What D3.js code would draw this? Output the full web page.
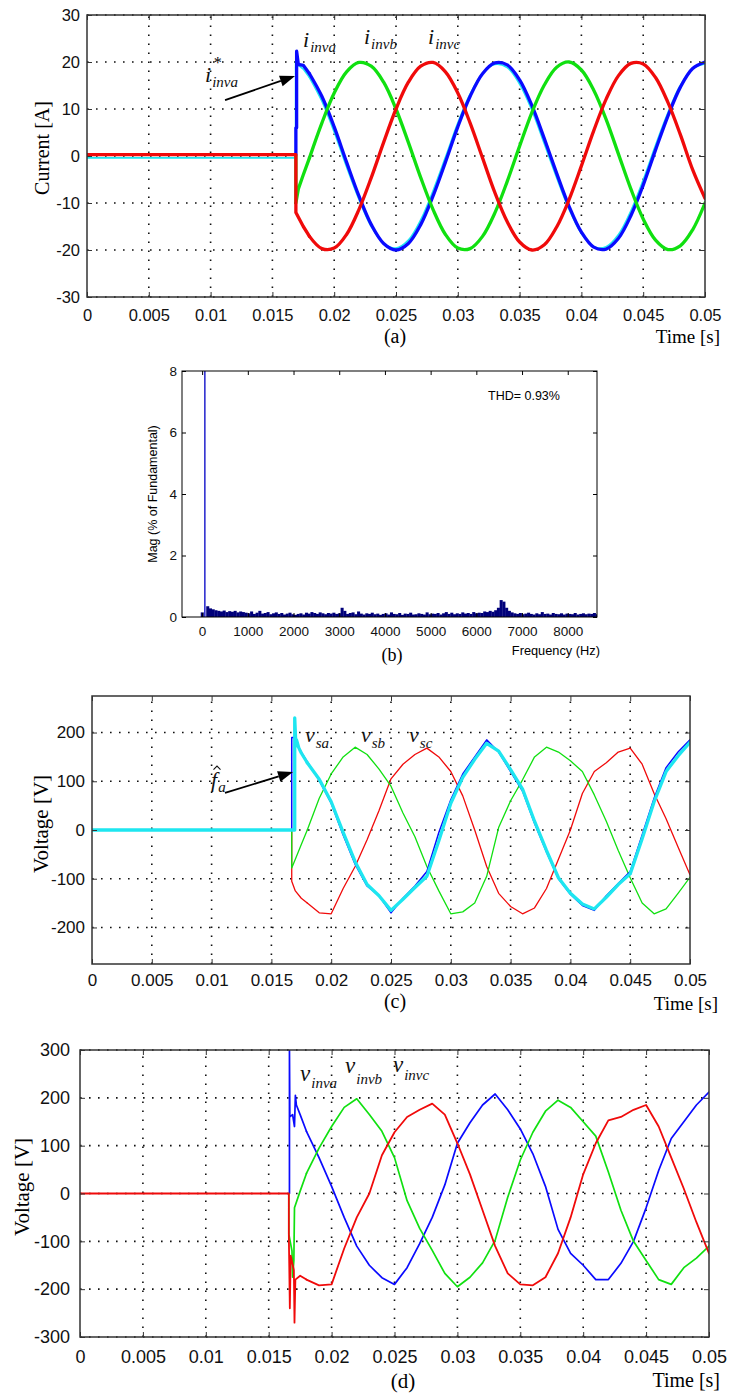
<!DOCTYPE html>
<html>
<head>
<meta charset="utf-8">
<script src="https://cdn.jsdelivr.net/npm/d3@7"></script>
<style>
  body { margin: 0; background: #fff; }
  svg { display: block; }
</style>
</head>
<body>
<div id="chart"></div>
<script>
// ---- data ------------------------------------------------------------

// shared sample instants after the inverter is switched in (s)
const tSteady = [0.018, 0.019, 0.020, 0.021, 0.022, 0.023, 0.024, 0.025, 0.026, 0.027, 0.028,
  0.029, 0.030, 0.031, 0.032, 0.033, 0.034, 0.035, 0.036, 0.037, 0.038, 0.039, 0.040, 0.041,
  0.042, 0.043, 0.044, 0.045, 0.046, 0.047, 0.048, 0.049, 0.050];
const timeTicks = [0, 0.005, 0.01, 0.015, 0.02, 0.025, 0.03, 0.035, 0.04, 0.045, 0.05];

// (a) inverter currents [A]
const currentTicks = [-30, -20, -10, 0, 10, 20, 30];
const iRefStart = [[0, -0.4], [0.01688, -0.4], [0.01688, 20.1], [0.0170, 19.5], [0.0175, 18.5]];
const iRef = [16.7, 11.7, 5.1, -2.3, -9.2, -15.0, -18.6, -19.6, -17.9, -13.6, -7.4, -0.3, 7.0, 13.2,
  17.6, 19.5, 18.8, 15.3, 9.7, 2.6, -4.6, -11.3, -16.5, -19.3, -19.3, -16.7, -11.7, -5.1, 2.3, 9.2,
  15.0, 18.6, 19.6];
const iaStart = [[0.0169, 0.2], [0.0169, 6], [0.01696, 6], [0.01696, 22.3], [0.0171, 19.5], [0.0175, 19.3]];
const ia = [17.5, 12.7, 6.2, -1.3, -8.5, -14.6, -18.6, -20, -18.6, -14.6, -8.5, -1.3, 6.2, 12.7,
  17.5, 19.8, 19.4, 16.2, 10.7, 3.7, -3.7, -10.7, -16.2, -19.4, -19.8, -17.5, -12.7, -6.2, 1.3, 8.5,
  14.6, 18.6, 20];
const ibStart = [[0.0169, 0], [0.0169, -10], [0.0171, -7], [0.0175, -4]];
const ib = [-0.4, 7.0, 13.4, 17.9, 19.9, 19.1, 15.7, 10, 2.9, -4.6, -11.4, -16.7, -19.6, -19.7,
  -17.1, -12.1, -5.4, 2.1, 9.3, 15.1, 18.9, 20.0, 18.3, 14.0, 7.8, 0.4, -7.0, -13.4, -17.9, -19.9,
  -19.1, -15.7, -10];
const icStart = [[0, 0.3], [0.0169, 0.3], [0.0169, -12], [0.0175, -15]];
const ic = [-17.1, -19.7, -19.6, -16.7, -11.4, -4.6, 2.9, 10, 15.7, 19.1, 19.9, 17.9, 13.4, 7.0,
  -0.4, -7.8, -14.0, -18.3, -20.0, -18.9, -15.1, -9.3, -2.1, 5.4, 12.1, 17.1, 19.7, 19.6, 16.7,
  11.4, 4.6, -2.9, -9];

// (b) current spectrum, one value per harmonic order 0..144 of 60 Hz [% of fundamental]
const harmonicHz = 60;
const spectrum = [
  0.15, 100, 0.35, 0.28, 0.25, 0.22, 0.2, 0.18, 0.21, 0.16,
  0.19, 0.17, 0.2, 0.15, 0.18, 0.16, 0.14, 0.12, 0.18, 0.1,
  0.14, 0.2, 0.11, 0.13, 0.16, 0.09, 0.12, 0.15, 0.1, 0.13,
  0.08, 0.11, 0.14, 0.09, 0.07, 0.1, 0.12, 0.08, 0.14, 0.11,
  0.16, 0.13, 0.1, 0.15, 0.12, 0.09, 0.13, 0.11, 0.14, 0.1,
  0.12, 0.3, 0.2, 0.1, 0.13, 0.15, 0.09, 0.18, 0.11, 0.08,
  0.12, 0.1, 0.14, 0.09, 0.11, 0.07, 0.1, 0.12, 0.08, 0.15,
  0.1, 0.09, 0.13, 0.07, 0.11, 0.1, 0.14, 0.08, 0.09, 0.12,
  0.1, 0.08, 0.15, 0.09, 0.11, 0.1, 0.13, 0.08, 0.12, 0.16,
  0.1, 0.14, 0.09, 0.12, 0.1, 0.15, 0.11, 0.13, 0.1, 0.16,
  0.12, 0.14, 0.13, 0.18, 0.16, 0.2, 0.17, 0.22, 0.3, 0.55,
  0.5, 0.3, 0.2, 0.15, 0.12, 0.1, 0.13, 0.09, 0.11, 0.14,
  0.1, 0.08, 0.12, 0.09, 0.16, 0.1, 0.11, 0.08, 0.13, 0.1,
  0.09, 0.12, 0.08, 0.11, 0.1, 0.09, 0.13, 0.08, 0.1, 0.12,
  0.09, 0.11, 0.1, 0.13, 0.09];
const freqTicks = [0, 1000, 2000, 3000, 4000, 5000, 6000, 7000, 8000];
const magTicks = [0, 2, 4, 6, 8];

// (c) source voltages and estimated signal [V]
const srcTicks = [-200, -100, 0, 100, 200];
const fHatStart = [[0, 0], [0.01695, 0], [0.01695, 230], [0.01705, 172], [0.0171, 185], [0.0173, 168], [0.0175, 158]];
const fHat = [138, 104, 58, -5, -65, -112, -135, -165, -142, -118, -95, -22, 55, 108, 145, 178,
  162, 124, 84, 18, -42, -98, -130, -152, -162, -138, -112, -90, -18, 58, 120, 152, 180];
const vsaStart = [[0, 0], [0.0167, 0], [0.0167, 190], [0.0169, 190], [0.017, 180], [0.0175, 160]];
const vsa = [140, 102, 55, -10, -70, -115, -135, -170, -140, -115, -85, -5, 62, 115, 150, 185,
  160, 120, 80, 14, -45, -100, -132, -155, -165, -135, -110, -85, -10, 65, 128, 160, 185];
const vsbStart = [[0, 0], [0.0167, 0], [0.0167, -78], [0.017, -60], [0.0175, -30]];
const vsb = [0, 65, 115, 150, 170, 155, 125, 90, 35, -14, -75, -125, -172, -168, -150, -95, 5,
  60, 103, 150, 170, 160, 142, 120, 72, 18, -42, -98, -150, -172, -162, -130, -97];
const vscStart = [[0, 0], [0.0167, 0], [0.0167, -105], [0.017, -125], [0.0175, -140]];
const vsc = [-150, -170, -172, -120, -75, -20, 40, 105, 135, 155, 168, 150, 120, 70, 0, -75, -130,
  -157, -172, -160, -120, -60, 0, 75, 120, 138, 160, 168, 135, 75, 23, -35, -92];

// (d) inverter voltages [V]
const invTicks = [-300, -200, -100, 0, 100, 200, 300];
const vinvaStart = [[0.01665, 0], [0.01665, 300], [0.01668, 160], [0.0169, 165], [0.01705, 140],
  [0.01712, 205], [0.0172, 185], [0.0175, 165]];
const vinva = [130, 75, 15, -50, -110, -150, -176, -190, -155, -105, -50, 18, 105, 148, 185, 208,
  175, 135, 83, 15, -75, -125, -150, -180, -180, -146, -100, -30, 48, 115, 150, 185, 212];
const vinvbStart = [[0.0166, 0], [0.0166, -85], [0.01685, -120], [0.0169, -175], [0.0170, -140],
  [0.01705, -30], [0.0175, 5]];
const vinvb = [42, 95, 140, 180, 198, 165, 130, 75, -15, -73, -119, -167, -195, -175, -145, -98,
  -8, 70, 128, 172, 195, 180, 150, 120, 45, -35, -100, -140, -180, -190, -155, -135, -110];
const vinvcStart = [[0, 0], [0.0166, 0], [0.0166, -85], [0.01668, -240], [0.01675, -130], [0.0170, -160],
  [0.01705, -270], [0.01712, -180], [0.0175, -172]];
const vinvc = [-180, -192, -190, -115, -50, 0, 80, 128, 160, 175, 188, 165, 105, 40, -35, -110,
  -167, -190, -192, -175, -125, -50, 40, 105, 153, 160, 175, 185, 140, 75, 10, -60, -125];

// ---- drawing ---------------------------------------------------------

const SANS = '"Liberation Sans", Arial, Helvetica, sans-serif';
const SERIF = '"Liberation Serif", "Times New Roman", Times, serif';
const BLUE = '#0a0aff', GREEN = '#10e010', RED = '#f00a0a', CYAN = '#1ee6f0';

const svg = d3.select('#chart').append('svg')
  .attr('width', 730).attr('height', 1397)
  .style('background', '#fff');

const fmtTime = d => String(+d.toFixed(3));
let clipId = 0;

/**
 * Box, inward ticks on all four sides and tick labels
 */
function drawFrame(g, x, y, o) {
  const [x0, x1] = x.range();
  const [yb, yt] = y.range();

  const bottom = g.append('g').attr('transform', `translate(0,${yb})`)
    .call(d3.axisBottom(x).tickValues(o.xTicks).tickSizeInner(-o.tick).tickSizeOuter(0)
      .tickPadding(o.xPad).tickFormat(o.xFormat));
  const top = g.append('g').attr('transform', `translate(0,${yt})`)
    .call(d3.axisTop(x).tickValues(o.xTicks).tickSizeInner(-o.tick).tickSizeOuter(0).tickFormat(''));
  const left = g.append('g').attr('transform', `translate(${x0},0)`)
    .call(d3.axisLeft(y).tickValues(o.yTicks).tickSizeInner(-o.tick).tickSizeOuter(0)
      .tickPadding(o.yPad).tickFormat(d => String(d)));
  const right = g.append('g').attr('transform', `translate(${x1},0)`)
    .call(d3.axisRight(y).tickValues(o.yTicks).tickSizeInner(-o.tick).tickSizeOuter(0).tickFormat(''));

  [bottom, top, left, right].forEach(a => {
    a.select('.domain').remove();
    a.attr('font-size', o.font).attr('font-family', SANS).attr('color', o.color);
    a.selectAll('line').attr('stroke-width', 1);
    a.selectAll('text').attr('fill', '#111');
  });

  g.append('rect')
    .attr('x', x0).attr('y', yt).attr('width', x1 - x0).attr('height', yb - yt)
    .attr('fill', 'none').attr('stroke', o.color).attr('stroke-width', o.boxWidth);
}

/**
 * Dotted MATLAB-style grid
 */
function drawGrid(g, x, y, xTicks, yTicks) {
  const [x0, x1] = x.range();
  const [yb, yt] = y.range();
  const grid = g.append('g')
    .attr('stroke', '#111').attr('stroke-width', 1.6).attr('stroke-dasharray', '1.6,7.4');

  grid.selectAll('line.v').data(xTicks.slice(1, -1)).join('line').attr('class', 'v')
    .attr('x1', d => x(d)).attr('x2', d => x(d)).attr('y1', yb).attr('y2', yt);
  grid.selectAll('line.h').data(yTicks).join('line').attr('class', 'h')
    .attr('x1', x0).attr('x2', x1).attr('y1', d => y(d)).attr('y2', d => y(d));
}

/**
 * Italic variable name with subscript, anchored at a data position
 */
function varLabel(g, px, py, main, sub, size, subSize, subDy) {
  const t = g.append('text').attr('x', px).attr('y', py)
    .attr('font-family', SERIF).attr('font-style', 'italic')
    .attr('font-size', size).attr('fill', '#111');
  t.append('tspan').text(main);
  t.append('tspan').attr('font-size', subSize).attr('dx', 1).attr('dy', subDy).text(sub);
  return t;
}

function arrow(g, p0, p1) {
  const dx = p1[0] - p0[0], dy = p1[1] - p0[1];
  const len = Math.hypot(dx, dy), ux = dx / len, uy = dy / len;
  const hl = 15, hw = 5.5;
  const bx = p1[0] - ux * hl, by = p1[1] - uy * hl;
  g.append('line')
    .attr('x1', p0[0]).attr('y1', p0[1]).attr('x2', bx).attr('y2', by)
    .attr('stroke', '#000').attr('stroke-width', 1.8);
  g.append('path')
    .attr('d', `M${p1[0]},${p1[1]}L${bx - uy * hw},${by + ux * hw}L${bx + uy * hw},${by - ux * hw}Z`)
    .attr('fill', '#000');
}

/**
 * One time-domain panel: grid, curves, frame
 */
function drawTimePanel(cfg) {
  const x = d3.scaleLinear().domain([0, 0.05]).range(cfg.xRange);
  const y = d3.scaleLinear().domain(cfg.yDomain).range(cfg.yRange);
  const g = svg.append('g');

  drawGrid(g, x, y, timeTicks, cfg.yTicks);

  const id = 'clip' + (clipId++);
  g.append('clipPath').attr('id', id).append('rect')
    .attr('x', cfg.xRange[0]).attr('y', cfg.yRange[1])
    .attr('width', cfg.xRange[1] - cfg.xRange[0]).attr('height', cfg.yRange[0] - cfg.yRange[1]);
  const plot = g.append('g').attr('clip-path', `url(#${id})`);

  const lin = d3.line().x(d => x(d[0])).y(d => y(d[1]));
  const smooth = d3.line().x(d => x(d[0])).y(d => y(d[1])).curve(cfg.curve);

  cfg.series.forEach(s => {
    const steady = tSteady.map((t, i) => [t, s.values[i]]);
    const style = p => p.attr('fill', 'none').attr('stroke', s.color)
      .attr('stroke-width', s.width).attr('stroke-linejoin', 'round').attr('stroke-linecap', 'round');
    plot.append('path').attr('d', lin(s.start.concat([steady[0]]))).call(style);
    plot.append('path').attr('d', smooth(steady)).call(style);
  });

  drawFrame(g, x, y, {
    xTicks: timeTicks, yTicks: cfg.yTicks, xFormat: fmtTime, tick: 5,
    xPad: cfg.xPad, yPad: cfg.yPad, font: cfg.font, color: '#333', boxWidth: 1.5
  });
  return { g, x, y };
}

// ---- (a) currents ----
const pa = drawTimePanel({
  xRange: [87, 705], yRange: [297, 15], yDomain: [-30, 30], yTicks: currentTicks,
  xPad: 12.3, yPad: 7, font: 16.5, curve: d3.curveCatmullRom,
  series: [
    { start: iRefStart, values: iRef, color: CYAN, width: 1.7 },
    { start: iaStart, values: ia, color: BLUE, width: 3.3 },
    { start: ibStart, values: ib, color: GREEN, width: 3.3 },
    { start: icStart, values: ic, color: RED, width: 3.3 }
  ]
});
varLabel(pa.g, pa.x(0.01748), pa.y(23.2), 'i', 'inva', 22, 15, 5);
varLabel(pa.g, pa.x(0.02241), pa.y(23.8), 'i', 'invb', 22, 15, 5);
varLabel(pa.g, pa.x(0.02759), pa.y(23.8), 'i', 'invc', 22, 15, 5);
varLabel(pa.g, pa.x(0.00955), pa.y(15.7), 'i', 'inva', 22, 15, 5);
pa.g.append('text').attr('x', pa.x(0.00955) + 8).attr('y', pa.y(15.7) - 14)
  .attr('font-family', SERIF).attr('font-style', 'italic').attr('font-size', 16).text('*');
arrow(pa.g, [pa.x(0.01117), pa.y(11.9)], [pa.x(0.01683), pa.y(17.0)]);
pa.g.append('text').attr('transform', 'translate(49,148) rotate(-90)')
  .attr('text-anchor', 'middle').attr('font-family', SERIF).attr('font-size', 20).text('Current [A]');
pa.g.append('text').attr('x', 395).attr('y', 343).attr('text-anchor', 'middle')
  .attr('font-family', SERIF).attr('font-size', 20).text('(a)');
pa.g.append('text').attr('x', 720).attr('y', 343).attr('text-anchor', 'end')
  .attr('font-family', SERIF).attr('font-size', 19).text('Time [s]');

// ---- (b) spectrum ----
(function drawSpectrum() {
  const x = d3.scaleLinear().domain([-440, 8640]).range([182, 597]);
  const y = d3.scaleLinear().domain([0, 8]).range([617, 371]);
  const g = svg.append('g');
  const bw = x(harmonicHz) - x(0);

  g.append('clipPath').attr('id', 'clipb').append('rect')
    .attr('x', 182).attr('y', 371).attr('width', 415).attr('height', 246);
  const plot = g.append('g').attr('clip-path', 'url(#clipb)');

  const bars = spectrum.map((v, h) => ({ h, v })).filter(d => d.h !== 1);
  plot.selectAll('rect').data(bars).join('rect')
    .attr('x', d => x(d.h * harmonicHz) - bw / 2)
    .attr('width', bw + 0.3)
    .attr('y', d => y(Math.min(d.v, 8)))
    .attr('height', d => y(0) - y(Math.min(d.v, 8)))
    .attr('fill', '#00007a');
  plot.append('line')
    .attr('x1', x(harmonicHz)).attr('x2', x(harmonicHz))
    .attr('y1', y(0)).attr('y2', y(Math.min(spectrum[1], 8)))
    .attr('stroke', '#2222cc').attr('stroke-width', 1.5);

  drawFrame(g, x, y, {
    xTicks: freqTicks, yTicks: magTicks, xFormat: d => String(d), tick: 4,
    xPad: 9.4, yPad: 5, font: 13.5, color: '#000', boxWidth: 1
  });

  g.append('text').attr('x', 488).attr('y', 400)
    .attr('font-family', SANS).attr('font-size', 12.5).text('THD= 0.93%');
  g.append('text').attr('transform', 'translate(157,494) rotate(-90)')
    .attr('text-anchor', 'middle').attr('font-family', SANS).attr('font-size', 12.5)
    .text('Mag (% of Fundamental)');
  g.append('text').attr('x', 600).attr('y', 655).attr('text-anchor', 'end')
    .attr('font-family', SANS).attr('font-size', 12.8).text('Frequency (Hz)');
  g.append('text').attr('x', 392).attr('y', 661).attr('text-anchor', 'middle')
    .attr('font-family', SERIF).attr('font-size', 18).text('(b)');
})();

// ---- (c) source voltages ----
const pc = drawTimePanel({
  xRange: [92, 690], yRange: [964, 696], yDomain: [-275, 275], yTicks: srcTicks,
  xPad: 10, yPad: 7, font: 17, curve: d3.curveLinear,
  series: [
    { start: vscStart, values: vsc, color: RED, width: 1.3 },
    { start: vsbStart, values: vsb, color: GREEN, width: 1.3 },
    { start: vsaStart, values: vsa, color: BLUE, width: 1.5 },
    { start: fHatStart, values: fHat, color: CYAN, width: 3.3 }
  ]
});
varLabel(pc.g, pc.x(0.01781), pc.y(181), 'v', 'sa', 22, 15, 6);
varLabel(pc.g, pc.x(0.02249), pc.y(181), 'v', 'sb', 22, 15, 6);
varLabel(pc.g, pc.x(0.02651), pc.y(181), 'v', 'sc', 22, 15, 6);
varLabel(pc.g, pc.x(0.00995), pc.y(88), 'f', 'a', 22, 15, 5);
// circumflex over the f, drawn as a small stroke so it does not collide with the letter box
{
  const hx = pc.x(0.00995) + 6, hy = pc.y(88) - 21;
  pc.g.append('path')
    .attr('d', `M${hx - 3.5},${hy + 3.5}L${hx},${hy}L${hx + 3.5},${hy + 3.5}`)
    .attr('fill', 'none').attr('stroke', '#111').attr('stroke-width', 1.1);
}
arrow(pc.g, [pc.x(0.01112), pc.y(76)], [pc.x(0.01681), pc.y(119)]);
pc.g.append('text').attr('transform', 'translate(48,824) rotate(-90)')
  .attr('text-anchor', 'middle').attr('font-family', SERIF).attr('font-size', 21).text('Voltage [V]');
pc.g.append('text').attr('x', 395).attr('y', 1008).attr('text-anchor', 'middle')
  .attr('font-family', SERIF).attr('font-size', 20).text('(c)');
pc.g.append('text').attr('x', 718).attr('y', 1010).attr('text-anchor', 'end')
  .attr('font-family', SERIF).attr('font-size', 19).text('Time [s]');

// ---- (d) inverter voltages ----
const pd = drawTimePanel({
  xRange: [80, 709], yRange: [1337, 1050], yDomain: [-300, 300], yTicks: invTicks,
  xPad: 13.2, yPad: 10, font: 18, curve: d3.curveLinear,
  series: [
    { start: vinvaStart, values: vinva, color: BLUE, width: 1.7 },
    { start: vinvbStart, values: vinvb, color: GREEN, width: 1.7 },
    { start: vinvcStart, values: vinvc, color: RED, width: 1.8 }
  ]
});
varLabel(pd.g, pd.x(0.01749), pd.y(236), 'v', 'inva', 23, 15, 7);
varLabel(pd.g, pd.x(0.02107), pd.y(251), 'v', 'invb', 23, 15, 11);
varLabel(pd.g, pd.x(0.02488), pd.y(253), 'v', 'invc', 23, 15, 8);
pd.g.append('text').attr('transform', 'translate(29,1187) rotate(-90)')
  .attr('text-anchor', 'middle').attr('font-family', SERIF).attr('font-size', 21).text('Voltage [V]');
pd.g.append('text').attr('x', 403).attr('y', 1388).attr('text-anchor', 'middle')
  .attr('font-family', SERIF).attr('font-size', 21).text('(d)');
pd.g.append('text').attr('x', 720).attr('y', 1387).attr('text-anchor', 'end')
  .attr('font-family', SERIF).attr('font-size', 20).text('Time [s]');
</script>
</body>
</html>
